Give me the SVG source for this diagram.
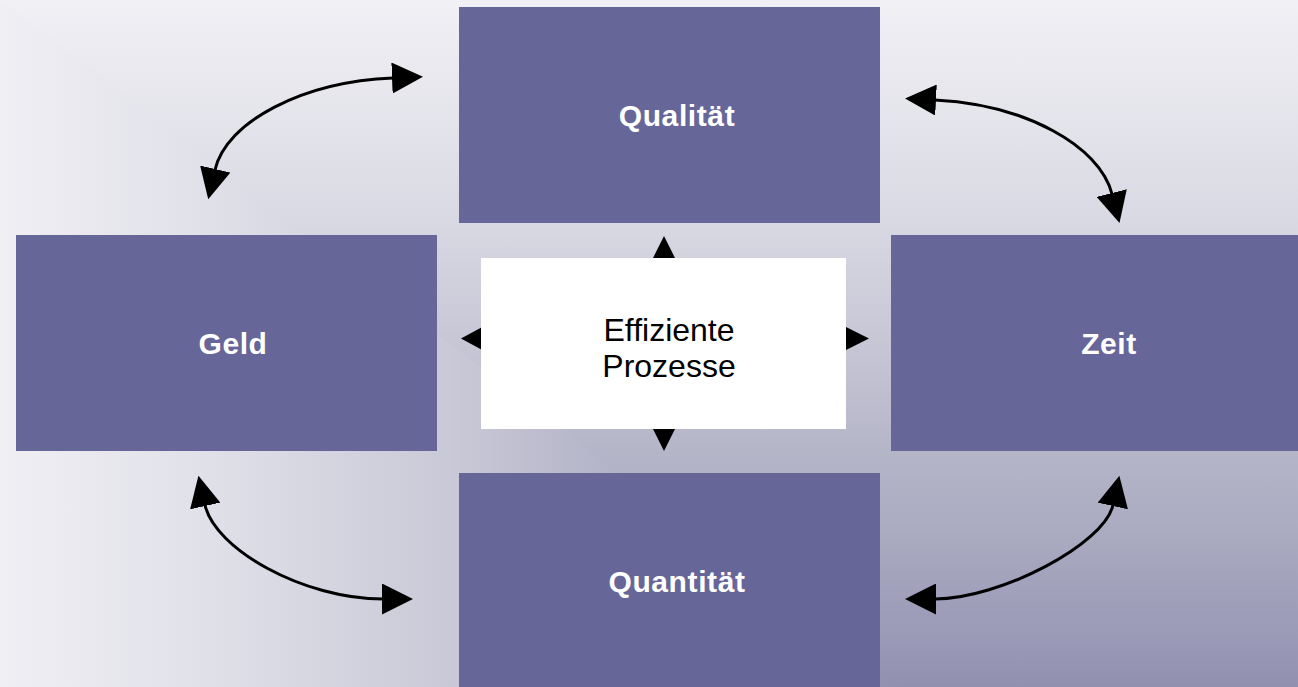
<svg xmlns="http://www.w3.org/2000/svg" width="1298" height="687" viewBox="0 0 1298 687">
  <defs>
    <linearGradient id="bgV" gradientUnits="userSpaceOnUse" x1="0" y1="0" x2="0" y2="687">
      <stop offset="0" stop-color="#f0f0f5"/>
      <stop offset="0.12" stop-color="#e8e8ee"/>
      <stop offset="0.33" stop-color="#d8d8e3"/>
      <stop offset="0.65" stop-color="#b6b6c9"/>
      <stop offset="0.76" stop-color="#acacc2"/>
      <stop offset="0.92" stop-color="#9b9ab7"/>
      <stop offset="1" stop-color="#9290af"/>
    </linearGradient>
    <linearGradient id="bgH" gradientUnits="userSpaceOnUse" x1="0" y1="0" x2="900" y2="0">
      <stop offset="0" stop-color="#efeff4"/>
      <stop offset="0.11" stop-color="#e8e8ee"/>
      <stop offset="0.22" stop-color="#e1e1ea"/>
      <stop offset="0.49" stop-color="#cacad8"/>
      <stop offset="0.64" stop-color="#b8b8cb"/>
      <stop offset="1" stop-color="#9290af"/>
    </linearGradient>
    <marker id="head" viewBox="0 0 31 31" refX="1" refY="15.5" markerWidth="31" markerHeight="31" markerUnits="userSpaceOnUse" orient="auto-start-reverse">
      <path d="M0,0 L31,15.5 L0,31 Z" fill="#000"/>
    </marker>
    <style>
      .box { fill: #666699; }
      .lbl { font-family: "Liberation Sans", Arial, sans-serif; font-weight: bold; font-size: 30px; fill: #ffffff; text-anchor: middle; letter-spacing: 0.6px; }
      .ctr { font-family: "Liberation Sans", Arial, sans-serif; font-size: 32px; fill: #000000; text-anchor: middle; }
      .arc { fill: none; stroke: #000; stroke-width: 3; marker-start: url(#head); marker-end: url(#head); }
      .tri { fill: #000; }
    </style>
  </defs>

  <g id="background">
    <rect x="0" y="0" width="1298" height="687" fill="url(#bgV)"/>
    <polygon points="0,0 900,687 0,687" fill="url(#bgH)"/>
  </g>

  <g id="connectors">
    <path class="arc" d="M215,170 C226.3,121.3 303.1,81.6 393,78"/>
    <path class="arc" d="M935,100 C1025,104.5 1099.5,145.5 1112,194"/>
    <path class="arc" d="M205,505 C214.8,548.9 303,599 383,599"/>
    <path class="arc" d="M935,599 C1000,599 1104.5,544.1 1113,505"/>
    <polygon class="tri" points="664,236 651,262 677,262"/>
    <polygon class="tri" points="664,451 651,425 677,425"/>
    <polygon class="tri" points="461,338.5 485,325.5 485,351.5"/>
    <polygon class="tri" points="869,338.5 843,325.5 843,351.5"/>
  </g>

  <g id="node-qualitaet">
    <rect class="box" x="459" y="7" width="421" height="216"/>
    <text class="lbl" x="677" y="126">Qualität</text>
  </g>
  <g id="node-geld">
    <rect class="box" x="16" y="235" width="421" height="216"/>
    <text class="lbl" x="233" y="354">Geld</text>
  </g>
  <g id="node-zeit">
    <rect class="box" x="891" y="235" width="421" height="216"/>
    <text class="lbl" x="1109" y="354">Zeit</text>
  </g>
  <g id="node-quantitaet">
    <rect class="box" x="459" y="473" width="421" height="216"/>
    <text class="lbl" x="677" y="592">Quantität</text>
  </g>
  <g id="node-prozesse">
    <rect x="481" y="258" width="365" height="171" fill="#ffffff"/>
    <text class="ctr" x="669" y="341">Effiziente</text>
    <text class="ctr" x="669" y="377">Prozesse</text>
  </g>
</svg>
